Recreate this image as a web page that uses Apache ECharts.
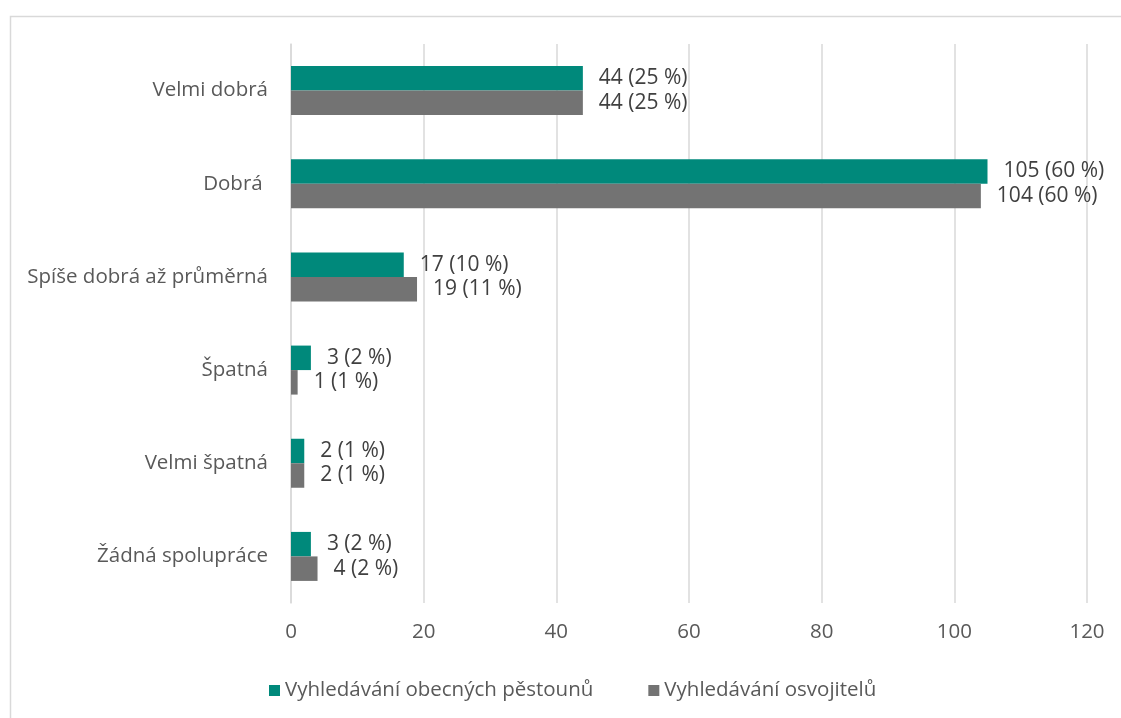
<!DOCTYPE html>
<html><head><meta charset="utf-8">
<script src="https://cdn.jsdelivr.net/npm/echarts@6/dist/echarts.min.js"></script>
<style>html,body{margin:0;padding:0;background:#fff}#c{width:1121px;height:718px}</style>
</head><body><div id="c"></div>
<script>
const categories = ["Velmi dobrá", "Dobrá ", "Spíše dobrá až průměrná", "Špatná", "Velmi špatná", "Žádná spolupráce"];
const seriesNames = ["Vyhledávání obecných pěstounů", "Vyhledávání osvojitelů"];
const pestouniValues = [44, 105, 17, 3, 2, 3];
const pestouniPct = [25, 60, 10, 2, 1, 2];
const osvojiteleValues = [44, 104, 19, 1, 2, 4];
const osvojitelePct = [25, 60, 11, 1, 1, 2];
const xTicks = [0, 20, 40, 60, 80, 100, 120];

const font = "'Open Sans', 'Noto Sans', sans-serif";
const fs = 20.5;
const chart = echarts.init(document.getElementById('c'), null, {renderer: 'canvas'});
function lbl(pcts) {
  return {
    show: true, position: 'right', distance: 16,
    fontFamily: font, fontSize: 21, color: '#404040',
    formatter: p => p.value + ' (' + pcts[p.dataIndex] + ' %)'
  };
}
chart.setOption({
  animation: false,
  backgroundColor: '#fff',
  graphic: [{type: 'rect', left: 8, top: 14, shape: {width: 1140, height: 730}, style: {fill: 'none', stroke: '#d9d9d9', lineWidth: 1.5}, silent: true}],
  grid: {left: 291, right: 34, top: 44, bottom: 115},
  legend: {
    left: 264, top: 675, icon: 'rect', itemWidth: 11, itemHeight: 11, itemGap: 55, itemStyle: {borderWidth: 0},
    textStyle: {fontFamily: font, fontSize: fs, color: '#595959'},
    data: seriesNames
  },
  xAxis: {
    type: 'value', min: xTicks[0], max: xTicks[xTicks.length - 1], interval: 20,
    axisLine: {show: false}, axisTick: {show: false},
    splitLine: {lineStyle: {color: '#d9d9d9', width: 1.5}},
    axisLabel: {fontFamily: font, fontSize: fs, color: '#595959', margin: 19}
  },
  yAxis: {
    type: 'category', inverse: true, data: categories,
    axisLine: {show: true, lineStyle: {color: '#d9d9d9', width: 1.5}},
    axisTick: {show: false},
    axisLabel: {fontFamily: font, fontSize: fs, color: '#595959', margin: 23}
  },
  series: [
    {name: seriesNames[0], type: 'bar', data: pestouniValues, barWidth: 24.5, barGap: '0%',
     itemStyle: {color: '#00897b'}, label: lbl(pestouniPct)},
    {name: seriesNames[1], type: 'bar', data: osvojiteleValues, barWidth: 24.5, barGap: '0%',
     itemStyle: {color: '#737373'}, label: lbl(osvojitelePct)}
  ]
});
</script></body></html>
